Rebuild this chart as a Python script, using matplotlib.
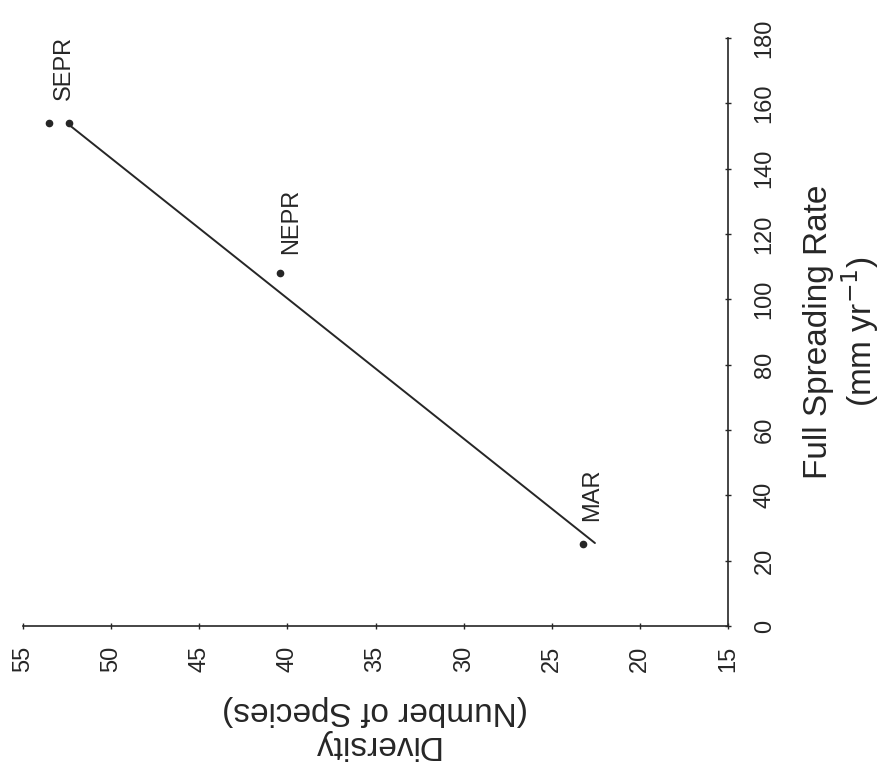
import matplotlib.pyplot as plt

plt.rcParams['font.family'] = ['Liberation Sans', 'DejaVu Sans']

# spreading rate (mm/yr) and diversity (number of species) per site
rate = [154, 154, 108, 25]
diversity = [53.5, 52.4, 40.4, 23.2]

# site labels and where they sit (diversity, rate)
site_names = ['SEPR', 'NEPR', 'MAR']
label_div = [52.7, 39.8, 22.7]
label_rate = [161, 114, 32]

# regression line end points (rate, diversity)
fit_rate = [25.4, 153.7]
fit_div = [22.55, 52.45]

div_ticks = [55, 50, 45, 40, 35, 30, 25, 20, 15]
rate_ticks = [0, 20, 40, 60, 80, 100, 120, 140, 160, 180]

ink = '#262626'

fig = plt.figure(figsize=(8.91, 7.83), dpi=100)
# the page is scanned sideways: diversity runs along the bottom (reversed),
# spreading rate runs up the right-hand side
ax = fig.add_axes([23 / 891, 1 - 626 / 783, 705 / 891, 588 / 783])

ax.plot(fit_div, fit_rate, color=ink, lw=1.4, solid_capstyle='round')
ax.plot(diversity, rate, 'o', color=ink, ms=4.5, ls='none')

for name, dx, ry in zip(site_names, label_div, label_rate):
    ax.text(dx, ry, name, rotation=90, ha='center', va='bottom',
            fontsize=17, color=ink)

ax.set_xlim(55, 15)
ax.set_ylim(0, 180)
ax.set_xticks(div_ticks)
ax.set_yticks(rate_ticks)

ax.spines['top'].set_visible(False)
ax.spines['left'].set_visible(False)
for s in ('bottom', 'right'):
    ax.spines[s].set_color(ink)
    ax.spines[s].set_linewidth(1.2)

ax.yaxis.tick_right()
ax.yaxis.set_label_position('right')
ax.tick_params(axis='both', direction='inout', length=5, width=1, colors=ink,
               labelsize=17, labelcolor=ink)
ax.tick_params(axis='x', pad=12)
ax.tick_params(axis='y', pad=16)
for lab in ax.get_xticklabels():
    lab.set_rotation(90)
for lab in ax.get_yticklabels():
    lab.set_rotation(90)
    lab.set_va('center')

ax.set_xlabel('Diversity\n(Number of Species)', rotation=180, fontsize=24,
              color=ink, labelpad=16, linespacing=1.15)
ax.set_ylabel('Full Spreading Rate\n(mm yr$^{-1}$)', rotation=90, fontsize=24,
              color=ink, labelpad=20, linespacing=1.15)

fig.savefig('out.png', dpi=100, facecolor='white')
